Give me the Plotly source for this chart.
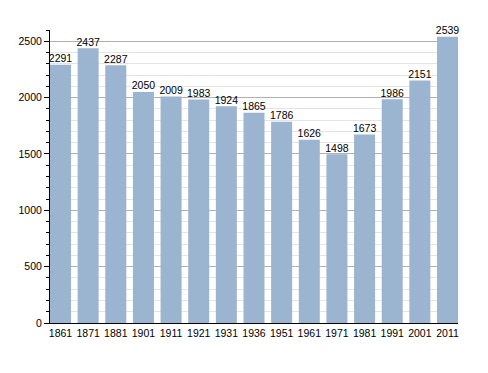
import plotly.graph_objects as go

years = ["1861", "1871", "1881", "1901", "1911", "1921", "1931", "1936",
         "1951", "1961", "1971", "1981", "1991", "2001", "2011"]
population = [2291, 2437, 2287, 2050, 2009, 1983, 1924, 1865,
              1786, 1626, 1498, 1673, 1986, 2151, 2539]
y_ticks = [0, 500, 1000, 1500, 2000, 2500]

FONT = "Liberation Sans, Arial"
BARGAP = 0.24
half = (1 - BARGAP) / 2

fig = go.Figure()
fig.add_trace(go.Bar(
    x=years, y=population,
    marker=dict(color="#9bb4d0", line=dict(width=0)),
    hoverinfo="x+y",
))
fig.add_trace(go.Scatter(
    x=years, y=population,
    mode="text",
    text=[str(v) for v in population],
    textposition="top center",
    textfont=dict(family=FONT, size=10.5, color="black"),
    cliponaxis=False,
    hoverinfo="skip",
))

fig.update_layout(
    template="none",
    width=480, height=365,
    margin=dict(l=42, r=30, t=22, b=50),
    paper_bgcolor="white", plot_bgcolor="white",
    bargap=BARGAP,
    showlegend=False,
    font=dict(family=FONT, size=10.5, color="black"),
    xaxis=dict(
        type="category",
        range=[-half, len(years) - 1 + half],
        automargin=False,
        showline=True, linecolor="black", linewidth=1,
        ticks="", showgrid=False,
        tickfont=dict(size=10.5),
    ),
    yaxis=dict(
        range=[0, 2600],
        automargin=False,
        tickvals=y_ticks,
        showline=True, linecolor="black", linewidth=1,
        ticks="outside", ticklen=5, tickcolor="black",
        showgrid=True, gridcolor="#b0b0b0", gridwidth=1,
        zeroline=False,
        tickfont=dict(size=10.5),
        minor=dict(dtick=100, tick0=0, ticks="outside", ticklen=3,
                   tickcolor="black", showgrid=True, gridcolor="#e4e4e4",
                   gridwidth=1),
    ),
)

fig.write_html("out.html")
